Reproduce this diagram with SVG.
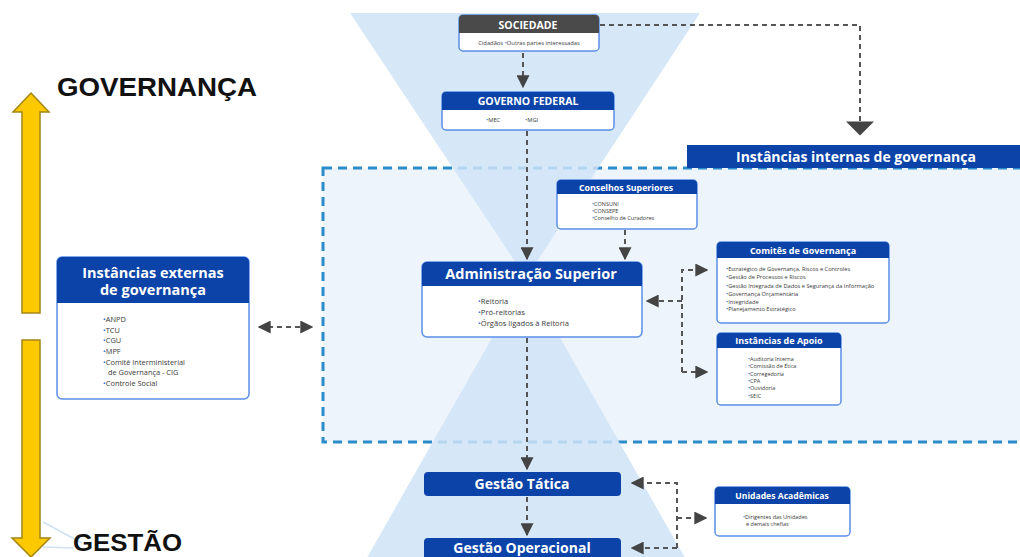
<svg xmlns="http://www.w3.org/2000/svg" width="1020" height="557" viewBox="0 0 1020 557">
<defs>
<style>
.hdr{fill:#0b43a9}
.hdg{fill:#4a4a4a}
.bd{fill:#fff;stroke:#5b8fe6;stroke-width:1.5}
.ht{font-family:"Open Sans",sans-serif;font-weight:700;fill:#fff;text-anchor:middle}
.it{font-family:"Open Sans",sans-serif;fill:#3a3a3a}
.b{fill:#2f6fd6}
.cn{fill:none;stroke:#555;stroke-width:2;stroke-dasharray:5 4}
.big{font-family:"Liberation Sans",Arial,sans-serif;font-weight:700;fill:#111}
.ya{fill:#fcc800;stroke:#a38612;stroke-width:1.5}
</style>
<marker id="ah" viewBox="0 0 10 10" refX="9" refY="5" markerWidth="13" markerHeight="13" markerUnits="userSpaceOnUse" orient="auto-start-reverse"><path d="M0,0 L10,5 L0,10 z" fill="#444"/></marker>
<marker id="ahb" viewBox="0 0 10 20" refX="9" refY="10" markerWidth="15" markerHeight="28" markerUnits="userSpaceOnUse" orient="auto"><path d="M0,0 L10,10 L0,20 z" fill="#444"/></marker>
</defs>
<rect width="1020" height="557" fill="#fff"/>
<!-- internal governance area -->
<rect x="323" y="168" width="720" height="274" fill="#edf4fc" stroke="#2b8ccb" stroke-width="3" stroke-dasharray="9 6"/>
<!-- hourglass -->
<polygon points="350,13 700,13 526,278" fill="#cfe3f7" opacity="0.85"/>
<polygon points="526,278 692,570 360,570" fill="#cfe3f7" opacity="0.85"/>
<!-- faint lines -->
<path d="M43,522 L82,543 M43,547 L73,548" stroke="#cfe2f3" stroke-width="1.5" fill="none"/>
<!-- side labels and arrows -->
<text class="big" x="57" y="96" font-size="26" textLength="200" lengthAdjust="spacingAndGlyphs">GOVERNANÇA</text>
<text class="big" x="73" y="551" font-size="24" textLength="109" lengthAdjust="spacingAndGlyphs">GESTÃO</text>
<path class="ya" d="M31,93 L49,112 L40,112 L40,313 L22,313 L22,112 L13,112 Z"/>
<path class="ya" d="M22,340 H40 V538 H50 L31,557 L12,538 H22 Z"/>

<g id="internas-header">
<rect x="687" y="145" width="340" height="23" fill="#0b43a9"/>
<text class="ht" x="856" y="162" font-size="14">Instâncias internas de governança</text>
</g>

<g id="connectors">
<path class="cn" d="M523,53 V87" marker-end="url(#ah)"/>
<path class="cn" d="M600,25 H860 V134" marker-end="url(#ahb)"/>
<path class="cn" d="M527,131 V259" marker-end="url(#ah)"/>
<path class="cn" d="M625,230 V259" marker-end="url(#ah)"/>
<path class="cn" d="M682,372 V270 H707" marker-end="url(#ah)"/>
<path class="cn" d="M682,301 H647" marker-end="url(#ah)"/>
<path class="cn" d="M682,372 H707" marker-end="url(#ah)"/>
<path class="cn" d="M259,327 H312" marker-start="url(#ah)" marker-end="url(#ah)"/>
<path class="cn" d="M527,338 V469" marker-end="url(#ah)"/>
<path class="cn" d="M527,497 V535" marker-end="url(#ah)"/>
<path class="cn" d="M677,548 V483 H632" marker-end="url(#ah)"/>
<path class="cn" d="M677,548 H632" marker-end="url(#ah)"/>
<path class="cn" d="M677,518 H706" marker-end="url(#ah)"/>
</g>

<g id="sociedade">
<rect class="bd" x="459" y="15" width="140" height="36" rx="4"/>
<path class="hdg" d="M459,33 V19 a4,4 0 0 1 4,-4 H595 a4,4 0 0 1 4,4 V33 z"/>
<text class="ht" x="528" y="29" font-size="10.5">SOCIEDADE</text>
<text class="it" x="529" y="45" font-size="5.8" text-anchor="middle">Cidadãos <tspan class="b">•</tspan>Outras partes interessadas</text>
</g>

<g id="governo-federal">
<rect class="bd" x="442" y="92" width="172" height="38" rx="4"/>
<path class="hdr" d="M442,110 V96 a4,4 0 0 1 4,-4 H610 a4,4 0 0 1 4,4 V110 z"/>
<text class="ht" x="528" y="105" font-size="10.5">GOVERNO FEDERAL</text>
<text class="it" y="122" font-size="5.8"><tspan x="486"><tspan class="b">•</tspan>MEC</tspan><tspan x="525"><tspan class="b">•</tspan>MGI</tspan></text>
</g>

<g id="conselhos-superiores">
<rect class="bd" x="557" y="180" width="140" height="49" rx="4"/>
<path class="hdr" d="M557,194 V184 a4,4 0 0 1 4,-4 H693 a4,4 0 0 1 4,4 V194 z"/>
<text class="ht" x="626" y="191" font-size="8.8">Conselhos Superiores</text>
<text class="it" font-size="5.5"><tspan x="592" y="206"><tspan class="b">•</tspan>CONSUNI</tspan><tspan x="592" y="213"><tspan class="b">•</tspan>CONSEPE</tspan><tspan x="592" y="220"><tspan class="b">•</tspan>Conselho de Curadores</tspan></text>
</g>

<g id="administracao-superior">
<rect class="bd" x="422" y="262" width="220" height="75" rx="5"/>
<path class="hdr" d="M422,286 V267 a5,5 0 0 1 5,-5 H637 a5,5 0 0 1 5,5 V286 z"/>
<text class="ht" x="531" y="279" font-size="14.5">Administração Superior</text>
<text class="it" font-size="7.6"><tspan x="478" y="304"><tspan class="b">•</tspan>Reitoria</tspan><tspan x="478" y="315"><tspan class="b">•</tspan>Pró-reitorias</tspan><tspan x="478" y="326"><tspan class="b">•</tspan>Órgãos ligados à Reitoria</tspan></text>
</g>

<g id="comites-governanca">
<rect class="bd" x="717" y="242" width="172" height="81" rx="4"/>
<path class="hdr" d="M717,258 V246 a4,4 0 0 1 4,-4 H885 a4,4 0 0 1 4,4 V258 z"/>
<text class="ht" x="803" y="254" font-size="9">Comitês de Governança</text>
<text class="it" font-size="5.7"><tspan x="726" y="271"><tspan class="b">•</tspan>Estratégico de Governança, Riscos e Controles</tspan><tspan x="726" y="279"><tspan class="b">•</tspan>Gestão de Processos e Riscos</tspan><tspan x="726" y="288"><tspan class="b">•</tspan>Gestão Integrada de Dados e Segurança da Informação</tspan><tspan x="726" y="296"><tspan class="b">•</tspan>Governança Orçamentária</tspan><tspan x="726" y="304"><tspan class="b">•</tspan>Integridade</tspan><tspan x="726" y="311"><tspan class="b">•</tspan>Planejamento Estratégico</tspan></text>
</g>

<g id="instancias-apoio">
<rect class="bd" x="717" y="333" width="124" height="72" rx="4"/>
<path class="hdr" d="M717,348 V337 a4,4 0 0 1 4,-4 H837 a4,4 0 0 1 4,4 V348 z"/>
<text class="ht" x="779" y="344" font-size="9">Instâncias de Apoio</text>
<text class="it" font-size="5.5"><tspan x="748" y="361"><tspan class="b">•</tspan>Auditoria Interna</tspan><tspan x="748" y="368"><tspan class="b">•</tspan>Comissão de Ética</tspan><tspan x="748" y="376"><tspan class="b">•</tspan>Corregedoria</tspan><tspan x="748" y="383"><tspan class="b">•</tspan>CPA</tspan><tspan x="748" y="390"><tspan class="b">•</tspan>Ouvidoria</tspan><tspan x="748" y="398"><tspan class="b">•</tspan>SEIC</tspan></text>
</g>

<g id="instancias-externas">
<rect class="bd" x="57" y="257" width="192" height="142" rx="5"/>
<path class="hdr" d="M57,303 V262 a5,5 0 0 1 5,-5 H244 a5,5 0 0 1 5,5 V303 z"/>
<text class="ht" font-size="14.5"><tspan x="153" y="278">Instâncias externas</tspan><tspan x="153" y="295">de governança</tspan></text>
<text class="it" font-size="7.4"><tspan x="103" y="322"><tspan class="b">•</tspan>ANPD</tspan><tspan x="103" y="333"><tspan class="b">•</tspan>TCU</tspan><tspan x="103" y="343"><tspan class="b">•</tspan>CGU</tspan><tspan x="103" y="354"><tspan class="b">•</tspan>MPF</tspan><tspan x="103" y="365"><tspan class="b">•</tspan>Comitê Interministerial</tspan><tspan x="108" y="375">de Governança - CIG</tspan><tspan x="103" y="386"><tspan class="b">•</tspan>Controle Social</tspan></text>
</g>

<g id="gestao-tatica">
<rect class="hdr" x="424" y="472" width="197" height="24" rx="4"/>
<text class="ht" x="522" y="489" font-size="14">Gestão Tática</text>
</g>

<g id="gestao-operacional">
<rect class="hdr" x="424" y="538" width="197" height="30" rx="4"/>
<text class="ht" x="522" y="553" font-size="14">Gestão Operacional</text>
</g>

<g id="unidades-academicas">
<rect class="bd" x="715" y="487" width="135" height="49" rx="4"/>
<path class="hdr" d="M715,504 V491 a4,4 0 0 1 4,-4 H846 a4,4 0 0 1 4,4 V504 z"/>
<text class="ht" x="782" y="499" font-size="8.6">Unidades Acadêmicas</text>
<text class="it" font-size="5.5"><tspan x="743" y="519"><tspan class="b">•</tspan>Dirigentes das Unidades</tspan><tspan x="746" y="526">e demais chefias</tspan></text>
</g>
</svg>
